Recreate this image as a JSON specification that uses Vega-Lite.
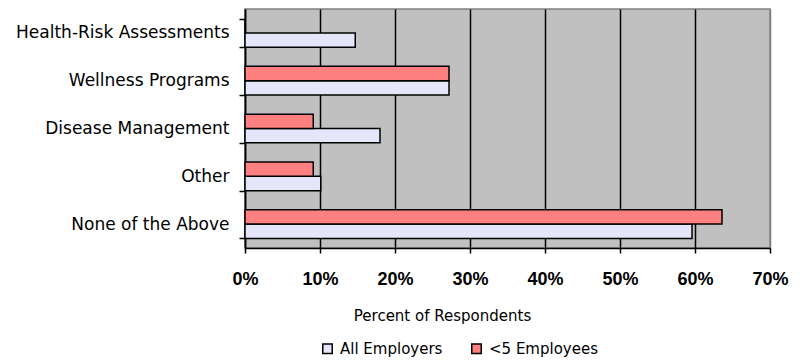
{
  "$schema": "https://vega.github.io/schema/vega-lite/v6.json",
  "width": 525,
  "height": 239,
  "autosize": {"type": "none"},
  "padding": {"left": 245, "top": 9, "right": 35, "bottom": 114},
  "background": "white",
  "config": {"view": {"fill": "#c0c0c0", "stroke": "#808080", "strokeWidth": 1.5}},
  "data": {
    "values": [
      {"category": "Health-Risk Assessments", "group": "All Employers", "value": 0.147},
      {"category": "Health-Risk Assessments", "group": "<5 Employees", "value": 0},
      {"category": "Wellness Programs", "group": "All Employers", "value": 0.272},
      {"category": "Wellness Programs", "group": "<5 Employees", "value": 0.272},
      {"category": "Disease Management", "group": "All Employers", "value": 0.18},
      {"category": "Disease Management", "group": "<5 Employees", "value": 0.091},
      {"category": "Other", "group": "All Employers", "value": 0.101},
      {"category": "Other", "group": "<5 Employees", "value": 0.091},
      {"category": "None of the Above", "group": "All Employers", "value": 0.596},
      {"category": "None of the Above", "group": "<5 Employees", "value": 0.636}
    ]
  },
  "mark": {"type": "bar", "stroke": "black", "strokeWidth": 1.5},
  "encoding": {
    "y": {
      "field": "category",
      "type": "nominal",
      "sort": null,
      "scale": {"paddingInner": 0.4, "paddingOuter": 0.2},
      "axis": {
        "title": null,
        "grid": false,
        "domainColor": "black",
        "domainWidth": 1.5,
        "tickColor": "black",
        "tickWidth": 1.5,
        "tickSize": 6,
        "tickBand": "extent",
        "labelFont": "DejaVu Sans",
        "labelFontSize": 17,
        "labelColor": "black",
        "labelPadding": 10,
        "labelLimit": 0
      }
    },
    "yOffset": {"field": "group", "sort": ["<5 Employees", "All Employers"]},
    "x": {
      "field": "value",
      "type": "quantitative",
      "scale": {"domain": [0, 0.7], "nice": false},
      "axis": {
        "values": [0, 0.1, 0.2, 0.3, 0.4, 0.5, 0.6, 0.7],
        "format": ".0%",
        "labelFont": "Liberation Sans",
        "labelFontWeight": "bold",
        "labelFontSize": 18,
        "labelColor": "black",
        "labelBaseline": "middle",
        "labelPadding": 26,
        "labelFlush": false,
        "labelOverlap": false,
        "tickSize": 5,
        "tickColor": "black",
        "tickWidth": 1.5,
        "domainColor": "black",
        "domainWidth": 1.5,
        "grid": true,
        "gridColor": {"condition": {"test": "datum.value >= 0.7", "value": "#808080"}, "value": "black"},
        "gridWidth": 1.5,
        "gridOpacity": 1,
        "title": "Percent of Respondents",
        "titleFont": "DejaVu Sans",
        "titleFontSize": 15,
        "titleFontWeight": "normal",
        "titleColor": "black",
        "titleX": 197,
        "titleY": 67,
        "titleBaseline": "middle"
      }
    },
    "color": {
      "field": "group",
      "type": "nominal",
      "scale": {"domain": ["All Employers", "<5 Employees"], "range": ["#e6e6fa", "#ff8080"]},
      "legend": {
        "orient": "none",
        "legendX": 75,
        "legendY": 332,
        "direction": "horizontal",
        "title": null,
        "padding": 0,
        "symbolType": "square",
        "symbolSize": 90,
        "symbolStrokeColor": "black",
        "symbolStrokeWidth": 1.5,
        "labelFont": "DejaVu Sans",
        "labelFontSize": 15,
        "labelColor": "black",
        "labelOffset": 5,
        "columnPadding": 25
      }
    }
  }
}
